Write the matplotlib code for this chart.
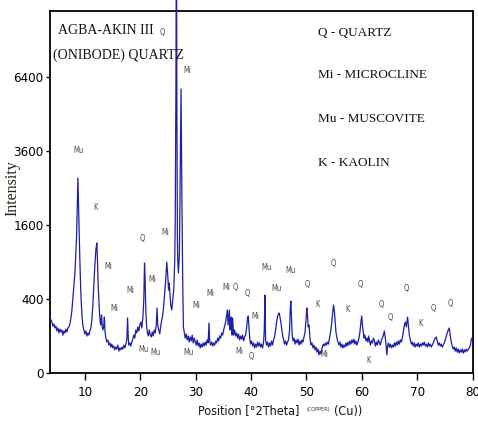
import numpy as np
import matplotlib
matplotlib.use("Agg")
import matplotlib.pyplot as plt
from matplotlib import font_manager

# ---------------- data ----------------
two_theta = [
    3.70, 3.87, 4.05, 4.23, 4.41, 4.59, 4.77, 4.95, 5.13, 5.31,
    5.49, 5.67, 5.85, 6.03, 6.21, 6.39, 6.57, 6.75, 6.94, 7.12,
    7.30, 7.48, 7.66, 7.84, 8.02, 8.20, 8.38, 8.50, 8.65, 8.74,
    8.85, 8.97, 9.10, 9.25, 9.37, 9.51, 9.64, 9.82, 10.00, 10.18,
    10.36, 10.54, 10.72, 10.90, 11.08, 11.26, 11.44, 11.62, 11.80, 11.98,
    12.16, 12.28, 12.40, 12.52, 12.63, 12.76, 12.89, 13.01, 13.12, 13.25,
    13.38, 13.52, 13.64, 13.79, 13.97, 14.15, 14.33, 14.51, 14.69, 14.87,
    15.05, 15.23, 15.41, 15.59, 15.77, 15.95, 16.13, 16.31, 16.49, 16.67,
    16.85, 17.03, 17.21, 17.39, 17.57, 17.71, 17.84, 17.93, 18.11, 18.29,
    18.47, 18.65, 18.83, 19.01, 19.19, 19.37, 19.55, 19.74, 19.92, 20.10,
    20.28, 20.46, 20.64, 20.77, 20.88, 21.00, 21.13, 21.27, 21.45, 21.63,
    21.81, 21.99, 22.17, 22.35, 22.53, 22.71, 22.89, 23.03, 23.16, 23.34,
    23.52, 23.70, 23.88, 24.06, 24.24, 24.42, 24.60, 24.78, 24.96, 25.11,
    25.23, 25.38, 25.50, 25.68, 25.86, 26.05, 26.23, 26.32, 26.44, 26.53,
    26.62, 26.71, 26.77, 26.89, 27.07, 27.25, 27.37, 27.52, 27.66, 27.79,
    27.97, 28.12, 28.30, 28.48, 28.66, 28.84, 29.02, 29.20, 29.38, 29.56,
    29.74, 29.92, 30.10, 30.28, 30.46, 30.64, 30.82, 31.00, 31.18, 31.36,
    31.54, 31.72, 31.90, 32.08, 32.26, 32.41, 32.54, 32.72, 32.90, 33.08,
    33.26, 33.44, 33.62, 33.80, 33.98, 34.16, 34.34, 34.52, 34.70, 34.88,
    35.06, 35.24, 35.42, 35.60, 35.73, 35.86, 35.96, 36.09, 36.21, 36.32,
    36.45, 36.57, 36.68, 36.86, 37.04, 37.22, 37.40, 37.58, 37.76, 37.94,
    38.12, 38.30, 38.48, 38.66, 38.84, 39.02, 39.20, 39.38, 39.51, 39.66,
    39.80, 39.93, 40.11, 40.29, 40.47, 40.65, 40.83, 41.01, 41.19, 41.37,
    41.55, 41.73, 41.91, 42.09, 42.27, 42.40, 42.51, 42.63, 42.81, 42.99,
    43.17, 43.35, 43.53, 43.71, 43.89, 44.07, 44.26, 44.44, 44.62, 44.80,
    44.98, 45.10, 45.25, 45.39, 45.52, 45.70, 45.88, 46.06, 46.24, 46.42,
    46.60, 46.78, 46.96, 47.08, 47.19, 47.32, 47.44, 47.59, 47.77, 47.95,
    48.13, 48.31, 48.49, 48.67, 48.85, 49.03, 49.21, 49.39, 49.57, 49.75,
    49.93, 50.08, 50.20, 50.33, 50.47, 50.65, 50.83, 51.01, 51.19, 51.37,
    51.55, 51.73, 51.91, 52.09, 52.27, 52.46, 52.64, 52.91, 53.09, 53.27,
    53.45, 53.63, 53.81, 53.99, 54.17, 54.35, 54.53, 54.71, 54.89, 55.07,
    55.20, 55.34, 55.52, 55.70, 55.88, 56.06, 56.24, 56.42, 56.60, 56.78,
    56.96, 57.14, 57.32, 57.50, 57.68, 57.86, 58.04, 58.22, 58.40, 58.58,
    58.76, 58.94, 59.12, 59.31, 59.49, 59.67, 59.85, 59.99, 60.12, 60.30,
    60.42, 60.57, 60.75, 60.93, 61.11, 61.25, 61.38, 61.56, 61.74, 61.92,
    62.10, 62.28, 62.46, 62.64, 62.82, 63.00, 63.18, 63.36, 63.54, 63.72,
    63.90, 64.08, 64.26, 64.39, 64.53, 64.68, 64.80, 64.99, 65.17, 65.35,
    65.53, 65.71, 65.89, 66.07, 66.25, 66.43, 66.61, 66.79, 66.97, 67.15,
    67.33, 67.51, 67.69, 67.87, 68.05, 68.28, 68.41, 68.59, 68.77, 68.95,
    69.13, 69.31, 69.49, 69.67, 69.85, 70.03, 70.21, 70.39, 70.57, 70.75,
    70.93, 71.11, 71.29, 71.47, 71.65, 71.84, 72.02, 72.20, 72.38, 72.56,
    72.74, 72.92, 73.10, 73.28, 73.46, 73.64, 73.82, 74.00, 74.18, 74.36,
    74.54, 74.72, 74.90, 75.08, 75.26, 75.44, 75.62, 75.80, 75.98, 76.16,
    76.34, 76.52, 76.70, 76.88, 77.06, 77.24, 77.42, 77.60, 77.78, 77.96,
    78.14, 78.32, 78.50, 78.68, 78.86, 79.04, 79.41, 79.59, 79.77, 79.89,
]
intensity = [
    229, 205, 190, 161, 175, 148, 161, 129, 148, 117,
    141, 123, 135, 105, 129, 117, 141, 123, 148, 155,
    175, 221, 290, 411, 566, 730, 1105, 1351, 2186, 2777,
    2062, 1351, 900, 503, 338, 221, 161, 135, 111, 129,
    100, 117, 105, 129, 148, 205, 338, 566, 852, 1105,
    1234, 900, 566, 389, 272, 190, 168, 246, 161, 135,
    155, 229, 123, 89, 70, 80, 57, 66, 49, 61,
    46, 53, 39, 49, 42, 57, 35, 46, 39, 49,
    42, 57, 46, 61, 80, 221, 89, 57, 66, 53,
    70, 84, 105, 89, 135, 117, 155, 129, 168, 190,
    148, 221, 389, 884, 632, 290, 168, 123, 100, 135,
    105, 95, 123, 100, 135, 117, 168, 309, 168, 135,
    111, 161, 205, 246, 338, 467, 632, 900, 702, 503,
    592, 444, 338, 290, 389, 503, 933, 1710, 6000, 16000,
    5000, 1292, 933, 730, 1052, 3314, 5892, 2186, 673, 155,
    117, 89, 111, 80, 100, 70, 95, 75, 105, 66,
    89, 70, 57, 80, 53, 66, 46, 61, 49, 66,
    53, 70, 57, 80, 66, 183, 75, 57, 70, 53,
    66, 57, 75, 66, 89, 75, 100, 89, 117, 105,
    135, 161, 190, 246, 290, 168, 221, 290, 135, 190,
    229, 105, 221, 105, 135, 100, 117, 89, 111, 80,
    100, 84, 105, 75, 95, 105, 148, 221, 237, 135,
    80, 61, 75, 53, 66, 46, 61, 49, 70, 53,
    66, 49, 61, 46, 70, 135, 444, 80, 57, 70,
    49, 66, 53, 75, 57, 80, 95, 135, 190, 237,
    254, 263, 221, 190, 148, 105, 80, 61, 75, 57,
    70, 80, 135, 290, 379, 221, 105, 75, 89, 61,
    80, 66, 84, 57, 75, 61, 80, 70, 95, 117,
    205, 309, 246, 155, 168, 89, 57, 66, 46, 57,
    39, 49, 32, 42, 24, 35, 26, 53, 61, 53,
    66, 57, 70, 61, 89, 117, 168, 246, 338, 272,
    190, 123, 89, 70, 57, 70, 49, 61, 46, 57,
    49, 66, 53, 70, 57, 75, 61, 80, 66, 84,
    61, 75, 57, 70, 89, 123, 190, 237, 168, 117,
    89, 105, 75, 89, 70, 100, 80, 57, 75, 66,
    89, 75, 53, 70, 57, 80, 66, 57, 80, 89,
    105, 129, 89, 57, 24, 53, 66, 49, 61, 46,
    57, 49, 66, 53, 70, 57, 75, 61, 80, 70,
    89, 123, 168, 190, 155, 229, 168, 105, 80, 61,
    70, 53, 66, 49, 61, 53, 66, 49, 61, 53,
    66, 57, 70, 53, 61, 49, 66, 53, 61, 49,
    57, 66, 80, 89, 95, 75, 57, 66, 53, 61,
    49, 57, 66, 80, 100, 117, 135, 148, 105, 70,
    53, 42, 49, 35, 46, 32, 42, 29, 39, 32,
    42, 29, 39, 32, 42, 35, 46, 53, 80, 89,
]

peak_labels = ["Mu", "K", "Mi", "Mi", "Mi", "Q", "Mi", "Mi", "Mu", "Mu",
               "Mu", "Mi", "Mi", "Mi", "Q", "Q", "Mi", "Mi", "Q", "Mi",
               "Q", "Mu", "Mu", "Mu", "Q", "K", "Mi", "Q", "K", "Q",
               "K", "Q", "Q", "Q", "K", "Q", "Q"]
label_theta = [8.9, 11.98, 14.2, 15.23, 18.11, 20.46, 22.2, 24.6, 20.51, 22.74,
               28.8, 30.19, 32.72, 35.6, 37.22, 24.06, 28.57, 37.89, 39.39, 40.7,
               39.98, 42.87, 44.67, 47.19, 50.2, 52.0, 53.21, 54.89, 57.36, 59.76,
               61.2, 63.49, 65.17, 68.1, 70.7, 72.98, 75.98]
label_int = [3633, 2013, 825, 306, 494, 1331, 632, 1432, 42, 31,
             31, 328, 456, 540, 540, 8494, 6706, 35, 464, 232,
             19, 810, 524, 775, 566, 338, 24, 884, 290, 575,
             12, 338, 223, 524, 180, 306, 355]

legend_lines = ["Q - QUARTZ", "Mi - MICROCLINE", "Mu - MUSCOVITE", "K - KAOLIN"]
sample_title = ["AGBA-AKIN III", "(ONIBODE) QUARTZ"]
y_ticks = [0, 400, 1600, 3600, 6400]
x_ticks = [10, 20, 30, 40, 50, 60, 70, 80]

assert len(two_theta) == len(intensity)
assert len(peak_labels) == len(label_theta) == len(label_int)

# ---------------- fonts ----------------
names = {f.name for f in font_manager.fontManager.ttflist}
if "Liberation Sans Narrow" in names:
    NARROW = dict(family="Liberation Sans Narrow")
else:
    NARROW = dict(family="DejaVu Sans", stretch="condensed")
SERIF = dict(family="Liberation Serif")

# ---------------- figure ----------------
W, H = 478, 424
fig = plt.figure(figsize=(W / 100, H / 100), dpi=100)
ax = fig.add_axes([50 / W, 1 - 373 / H, (472.5 - 50) / W, (373 - 10.7) / H])

ax.set_yscale("function",
              functions=(lambda v: np.sqrt(np.clip(v, 0, None)), lambda v: np.square(v)))
ax.plot(two_theta, intensity, color="#1e1ea6", lw=0.9, clip_on=False, zorder=3)
ax.set_xlim(3.7, 80)
ax.set_ylim(0, 9590)

ax.set_yticks(y_ticks)
ax.set_yticklabels([str(v) for v in y_ticks])
ax.set_xticks(x_ticks)
ax.set_xticklabels([str(v) for v in x_ticks])
ax.minorticks_off()
ax.tick_params(axis="x", direction="out", length=5, width=1.0, pad=4, labelsize=9.5)
ax.tick_params(axis="y", direction="out", length=3, width=1.0, pad=1.5, labelsize=9.5)
for lab in ax.get_xticklabels() + ax.get_yticklabels():
    lab.set_fontfamily(NARROW["family"])
    if "stretch" in NARROW:
        lab.set_fontstretch(NARROW["stretch"])
for sp in ax.spines.values():
    sp.set_linewidth(1.3)
    sp.set_color("black")

# peak labels
for t, x, y in zip(peak_labels, label_theta, label_int):
    ax.text(x, y, t, ha="center", va="center", fontsize=5.5, color="#4a4a4a",
            zorder=4, **NARROW)

# sample title and legend text (figure pixel placement)
fig.text(58 / W, 1 - 31 / H, sample_title[0], ha="left", va="center",
         fontsize=10, color="#111111", **SERIF)
fig.text(53 / W, 1 - 55 / H, sample_title[1], ha="left", va="center",
         fontsize=10, color="#111111", **SERIF)
for i, txt in enumerate(legend_lines):
    ypx = [32.5, 75.5, 119, 163.5][i]
    fig.text(318 / W, 1 - ypx / H, txt, ha="left", va="center",
             fontsize=9.5, color="#111111", **SERIF)

# axis titles
fig.text(12 / W, 1 - 188 / H, "Intensity", rotation=90, ha="center", va="center",
         fontsize=11.5, color="#2b2116", **SERIF)
fig.text(198 / W, 1 - 411 / H, "Position [°2Theta]", ha="left", va="center",
         fontsize=9, color="#111111", **NARROW)
fig.text(307 / W, 1 - 410 / H, "(COPPER)", ha="left", va="center",
         fontsize=4, color="#333333", **NARROW)
fig.text(334 / W, 1 - 411 / H, "(Cu))", ha="left", va="center",
         fontsize=9, color="#111111", **NARROW)

fig.savefig("out.png", dpi=100, facecolor="white")
